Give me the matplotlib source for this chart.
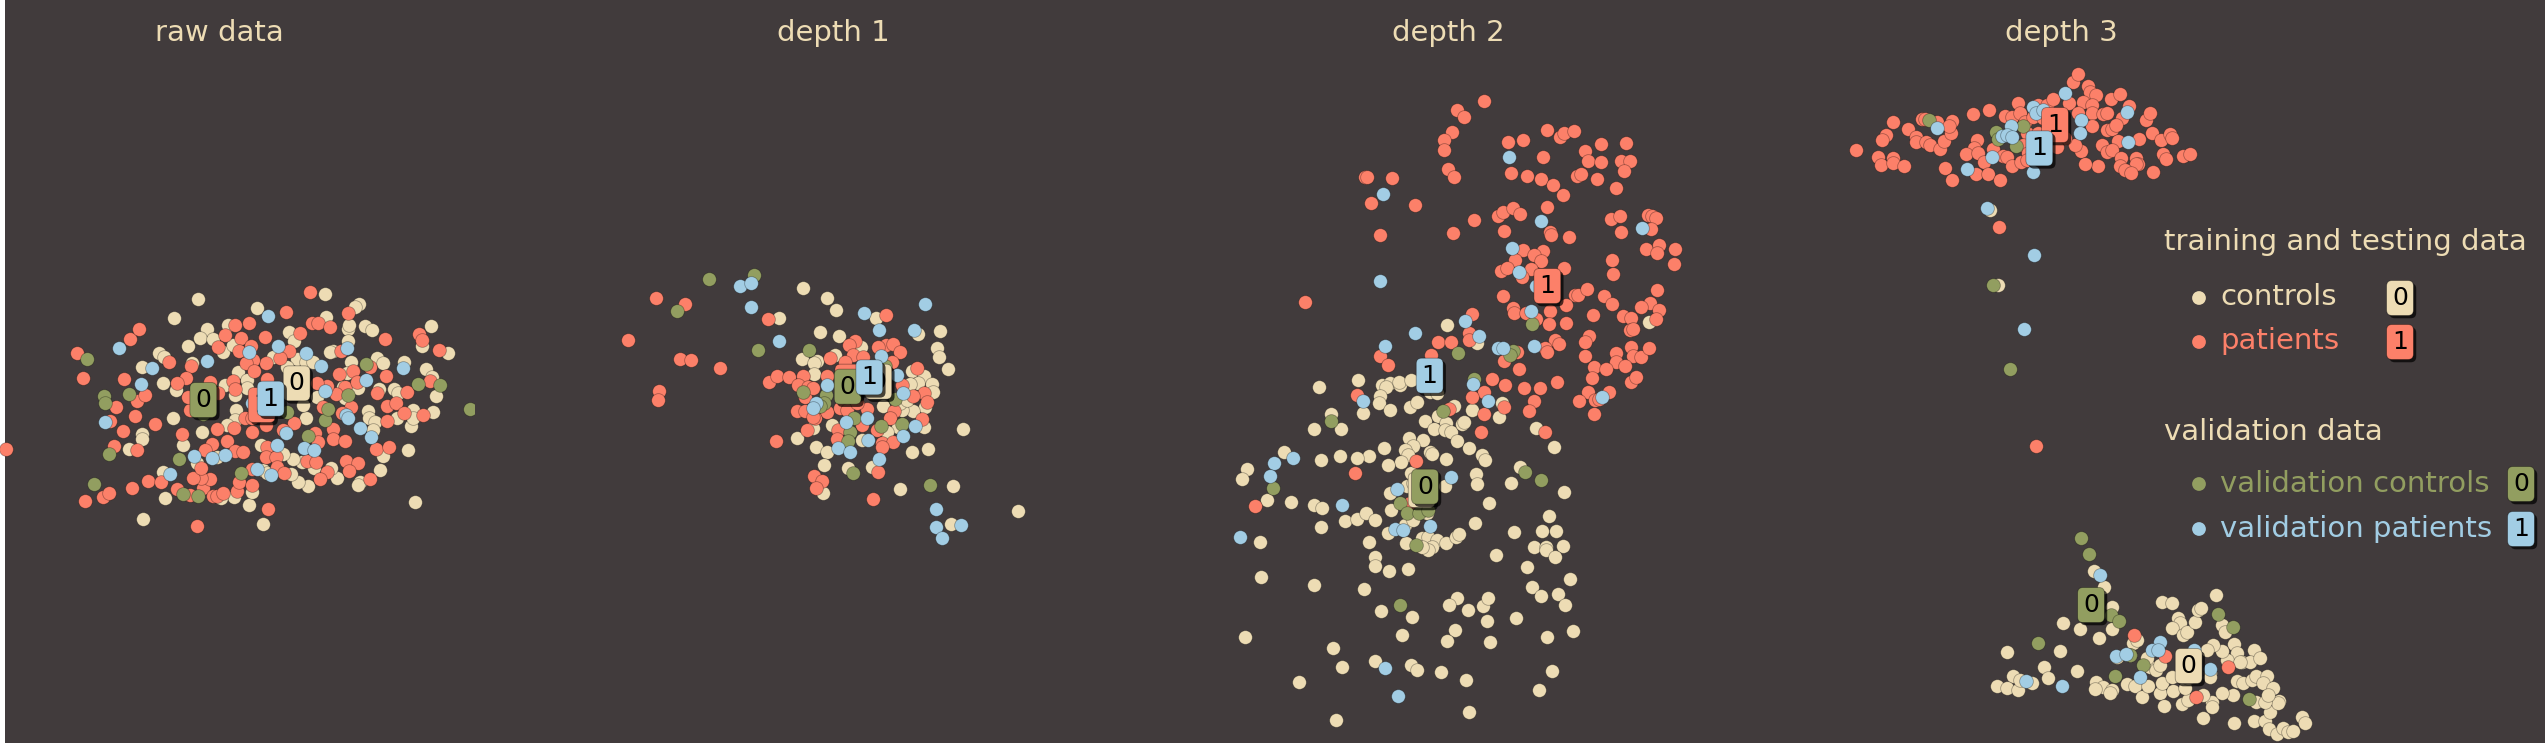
import matplotlib
matplotlib.use("Agg")
import matplotlib.pyplot as plt
import matplotlib.patheffects as pe
from matplotlib.patches import Rectangle
import numpy as np

WIDTH = 2545
HEIGHT = 743
BG = "#413b3c"
CREAM = "#eddcb4"
RED = "#fc8069"
OLIVE = "#929e60"
BLUE = "#a2cde4"

raw_controls = [(594,147),(522,203),(772,175),(975,133),(1077,161),(1065,172),(979,201),(685,225),(621,237),(599,264),(640,266),(564,288),(670,305),(700,285),(1043,238),(1048,225),(1095,228),(1116,240),(1292,228),(1267,288),(1343,310),(478,309),(492,322),(427,351),(490,398),(527,420),(575,340),(1045,272),(1000,303),(990,307),(867,245),(883,272),(1053,336),(1132,323),(1148,338),(1211,335),(1279,356),(1295,380),(1307,438),(1298,487),(1240,480),(1232,527),(1240,505),(1190,505),(1183,417),(1195,430),(1137,417),(1075,413),(1035,445),(1105,484),(1108,503),(1125,517),(1120,540),(518,504),(605,545),(548,584),(427,552),(427,568),(387,597),(490,665),(496,744),(430,807),(747,765),(788,823),(1245,755),(1224,601),(1150,618),(1140,660),(1080,695),(1075,705),(1012,683),(992,655),(925,709),(893,695),(873,672),(942,655),(905,635),(879,628),(850,612),(783,585),(790,660),(800,670),(715,365),(740,390),(740,415),(704,435),(675,405),(708,480),(705,510),(682,525),(918,505),(950,440),(910,465),(890,327),(917,335),(940,335),(860,350),(820,320),(756,725),(703,740),(662,745),(590,640),(650,620),(1040,370),(1030,410)]
raw_patients = [(232,309),(250,385),(373,388),(390,267),(416,237),(348,472),(406,497),(368,543),(343,589),(411,599),(19,597),(464,521),(411,452),(435,435),(330,512),(507,337),(573,347),(559,385),(532,398),(630,395),(256,754),(310,740),(328,730),(397,714),(443,694),(484,697),(530,717),(570,735),(608,714),(629,686),(602,684),(578,684),(603,653),(640,738),(650,738),(668,730),(712,723),(716,696),(755,706),(803,776),(591,828),(546,552),(650,538),(703,535),(755,547),(636,581),(616,600),(680,574),(706,604),(729,606),(800,590),(798,620),(828,620),(830,650),(851,670),(756,656),(882,518),(848,540),(945,548),(955,575),(998,537),(999,568),(1035,574),(1128,597),(1166,592),(1039,634),(1073,640),(1047,662),(981,667),(960,686),(1109,686),(921,632),(947,635),(931,125),(857,187),(747,220),(705,224),(675,255),(722,264),(655,292),(717,302),(752,288),(796,261),(901,250),(937,218),(953,218),(990,230),(1043,189),(1156,268),(1257,251),(1265,270),(1316,299),(1022,302),(868,304),(840,325),(799,340),(760,330),(738,340),(761,362),(700,392),(705,418),(800,388),(1018,373),(1060,364),(1110,350),(1158,379),(1034,410),(1070,397),(1009,433),(981,407),(1130,428),(1222,426),(1289,392),(1160,469),(1188,458),(1213,490),(1270,495),(1162,512),(1052,470),(1027,490),(970,472),(950,400),(735,505),(755,505),(797,525),(570,480),(565,440),(655,430)]
raw_val_controls = [(261,326),(311,437),(314,458),(388,432),(326,612),(283,702),(550,733),(594,739),(538,627),(724,668),(923,557),(976,511),(983,477),(1044,436),(1099,341),(1254,401),(1319,405),(1409,477),(860,487),(610,492)]
raw_val_patients = [(356,293),(457,354),(424,403),(315,515),(620,334),(746,307),(804,198),(835,289),(918,308),(963,348),(1041,293),(1097,389),(1208,353),(974,422),(1037,495),(1045,505),(1081,534),(1112,560),(857,550),(832,584),(911,595),(942,600),(772,656),(813,675),(676,615),(636,624),(583,617),(509,671),(755,460)]
raw_centers = {"cream": (890,400), "red": (785,465), "olive": (610,450), "blue": (812,446)}

d1_controls = [(610,143),(682,175),(709,211),(537,233),(828,235),(953,282),(1019,274),(661,277),(718,289),(1012,323),(1016,351),(1043,387),(782,322),(705,345),(606,356),(652,362),(642,368),(641,401),(936,392),(972,408),(955,428),(930,432),(995,433),(1000,455),(975,500),(938,513),(905,510),(850,498),(900,490),(1088,566),(972,560),(893,560),(985,628),(936,636),(592,593),(648,621),(682,635),(673,676),(640,565),(697,555),(785,600),(745,684),(815,680),(900,746),(1059,738),(670,760),(1052,852),(1253,814),(860,575),(920,480)]
d1_patients = [(167,174),(254,193),(83,301),(239,357),(274,360),(359,385),(176,454),(175,480),(505,237),(507,425),(530,408),(566,412),(528,604),(857,225),(764,303),(748,316),(857,314),(880,312),(900,336),(835,320),(760,345),(790,350),(875,365),(690,354),(735,365),(610,407),(680,408),(595,435),(625,440),(615,470),(640,445),(590,512),(615,512),(645,535),(640,530),(680,515),(720,505),(740,510),(800,508),(770,490),(622,569),(715,570),(712,598),(830,570),(845,608),(878,607),(845,620),(833,696),(643,709),(667,723),(648,744),(820,777),(882,512),(870,535),(966,537),(972,459),(980,485),(938,467),(952,384),(905,435),(785,555)]
d1_val_controls = [(463,105),(328,116),(231,214),(473,330),(628,329),(608,457),(678,464),(672,490),(660,497),(763,534),(749,576),(744,602),(843,559),(906,552),(884,477),(760,699),(990,734),(855,378)]
d1_val_patients = [(420,137),(452,128),(453,200),(537,304),(793,219),(837,269),(976,192),(943,270),(842,348),(890,405),(909,460),(944,558),(910,587),(805,599),(681,436),(648,488),(640,503),(737,547),(800,535),(714,624),(750,637),(838,657),(1008,808),(1008,862),(1084,855),(1025,895)]
d1_centers = {"cream": (835,425), "red": (745,425), "olive": (743,440), "blue": (808,412)}

# depth 2 was read in an upper and a lower part
d2_controls_upper = [(740,735),(1347,727),(830,788),(356,921),(474,899),(547,915),(570,910),(557,922),(600,915),(598,905),(632,900),(540,948),(538,968),(571,990),(490,1000),(392,1003),(630,980),(650,967),(762,978),(905,970),(816,990),(898,1012),(690,935),(710,940)]
d2_controls_lower = [(342,88),(423,88),(676,63),(715,48),(737,70),(701,87),(735,90),(752,95),(785,72),(792,65),(772,122),(808,145),(845,165),(856,179),(626,113),(668,120),(640,137),(615,150),(625,165),(690,155),(695,162),(553,143),(603,185),(565,194),(508,169),(471,173),(420,169),(362,179),(253,156),(142,208),(125,237),(200,300),(274,306),(343,315),(366,324),(363,382),(436,362),(472,358),(499,339),(526,361),(506,426),(524,471),(524,499),(566,514),(623,508),(565,399),(618,430),(615,375),(640,360),(572,329),(569,278),(738,176),(632,218),(620,258),(735,258),(827,223),(832,252),(867,309),(825,368),(934,248),(960,202),(1093,276),(1046,348),(1027,394),(1069,394),(941,396),(1003,440),(1037,440),(1038,451),(1089,437),(1065,472),(888,464),(981,501),(997,561),(1022,589),(1074,581),(1096,616),(1110,536),(949,654),(1118,693),(1040,712),(1056,813),(1017,871),(771,594),(747,616),(804,631),(849,617),(863,594),(862,664),(764,691),(740,724),(870,725),(605,706),(636,651),(542,634),(492,568),(343,554),(183,530),(179,426),(135,711),(400,745),(425,801),(297,846),(526,782),(634,795),(650,810),(722,815),(797,841),(409,960),(808,937),(665,415),(685,410),(712,420),(738,428),(768,411),(778,402),(695,440),(685,450),(1009,83),(1061,142),(665,440),(650,300),(660,300),(680,340),(640,250)]
d2_patients_upper = [(853,63),(770,90),(792,110),(755,155),(732,179),(732,210),(743,267),(761,290),(495,290),(502,290),(575,294),(514,369),(645,376),(539,464),(316,666),(758,459),(822,421),(925,185),(968,181),(1041,151),(1080,172),(1093,160),(1123,153),(1156,213),(1202,192),(1279,190),(1163,243),(1202,247),(1263,242),(1291,243),(1272,272),(1029,231),(933,278),(982,288),(1023,297),(1060,316),(1090,346),(1130,288),(1143,281),(1191,296),(1247,324),(1042,381),(895,407),(910,396),(938,384),(960,401),(912,452),(1050,457),(1054,465),(1106,470),(1233,418),(1261,408),(1264,457),(1343,404),(1355,407),(1368,415),(1354,447),(1338,508),(1376,496),(1370,519),(1424,506),(1421,551),(1237,539),(1240,581),(968,510),(1028,513),(1002,526),(1024,544),(946,540),(1092,563),(902,574),(922,565),(993,568),(965,592),(908,648),(1125,646),(1135,645),(1162,628),(1212,648),(1237,672),(1370,630),(1351,670),(1324,681),(1377,689),(1368,718),(1270,709),(1292,714),(1290,750),(1298,746),(938,683),(943,700),(978,700),(1008,718),(1049,692),(1097,676),(1047,732),(1097,728),(1179,706),(1166,767),(1155,786),(1065,780),(1076,792),(1035,805),(1041,816),(1155,828),(1249,818),(1292,800),(1300,827),(1324,832),(1347,805),(1248,846),(1276,859),(1183,860),(1219,867),(1175,895),(1292,907),(1308,891),(817,702),(808,758),(808,781),(715,785),(752,785),(692,826),(541,827),(563,854),(913,844),(958,867),(950,817),(876,896),(916,916),(971,925),(1020,925),(1071,906),(1164,936),(1226,936),(1137,962),(1185,960),(1198,958),(1002,963),(986,994),(1183,1003),(853,1003),(911,980),(851,936),(815,950),(748,987),(470,944),(1040,610)]
d2_patients_lower = [(648,183),(464,220),(165,317),(844,97),(1036,95),(630,310)]
d2_val_controls_upper = [(997,732),(774,818),(938,814),(930,825),(822,897),(730,992)]
d2_val_controls_lower = [(392,62),(218,265),(600,309),(622,339),(656,340),(685,330),(648,435),(976,216),(1022,240),(600,615)]
d2_val_patients_upper = [(928,230),(548,343),(541,603),(1023,423),(1327,443),(937,504),(956,575),(1007,618),(992,693),(796,723),(836,768),(644,759),(554,798),(893,805),(910,805),(1003,799),(819,913),(863,962),(490,962),(1207,951)]
d2_val_patients_lower = [(278,173),(221,190),(211,229),(121,410),(427,314),(592,267),(753,231),(689,377),(585,388),(608,390),(556,803),(595,889)]
d2_centers = {"cream": (665,1230), "red": (1042,618), "olive": (675,1220), "blue": (689,887)}

# depth 3 has a top cluster, a few points in the middle and a bottom cluster
d3_patients_top = [(77,300),(145,320),(153,345),(168,254),(156,270),(189,216),(190,325),(190,338),(222,349),(233,236),(258,262),(257,275),(288,275),(300,286),(275,207),(285,207),(320,215),(331,298),(343,274),(362,250),(365,212),(358,228),(344,355),(367,389),(428,191),(476,181),(440,270),(431,295),(407,313),(445,310),(463,337),(437,372),(473,373),(510,389),(490,298),(520,318),(530,320),(545,348),(572,335),(525,197),(547,200),(564,158),(570,190),(585,215),(590,250),(580,285),(595,310),(590,330),(610,200),(625,165),(650,165),(670,147),(730,97),(743,72),(773,107),(780,125),(798,135),(843,148),(870,133),(898,168),(875,203),(758,155),(785,165),(716,160),(745,190),(785,190),(820,192),(830,190),(785,228),(830,240),(845,238),(858,225),(947,211),(959,188),(863,273),(817,285),(753,304),(735,285),(705,265),(830,305),(845,300),(928,268),(967,250),(993,270),(1021,253),(1025,265),(1000,312),(1008,327),(1058,317),(1080,313),(968,366),(917,325),(925,342),(918,342),(873,325),(871,347),(885,360),(903,370),(804,349),(766,342),(680,290),(625,250),(640,205),(660,215)]
d3_val_controls_top = [(296,210),(580,227),(498,245),(505,268),(557,289)]
d3_val_patients_top = [(320,235),(411,357),(486,321),(543,227),(517,257),(530,255),(545,262),(610,170),(617,188),(640,180),(610,367),(705,128),(754,209),(751,250),(890,185),(893,277)]
d3_controls_mid = [(90,90),(115,316)]
d3_patients_mid = [(116,141),(227,798)]
d3_val_controls_mid = [(98,316),(149,568)]
d3_val_patients_mid = [(81,84),(222,225),(193,446)]
d3_controls_bot = [(432,154),(463,200),(486,260),(338,310),(390,328),(487,328),(446,354),(172,395),(329,393),(282,441),(381,453),(295,474),(188,467),(140,498),(172,504),(205,509),(247,490),(210,480),(437,485),(460,500),(435,507),(487,510),(480,520),(530,491),(556,498),(577,530),(594,497),(630,520),(635,490),(643,558),(695,553),(715,540),(760,595),(785,545),(787,560),(852,610),(913,603),(945,604),(958,627),(980,642),(1000,625),(1015,637),(1028,632),(1055,592),(1066,610),(960,575),(988,543),(985,550),(917,545),(945,545),(848,524),(817,518),(760,525),(670,513),(705,505),(665,470),(635,246),(667,248),(798,226),(685,293),(690,310),(665,325),(700,345),(710,335),(734,307),(745,270),(752,265),(815,315),(825,335),(851,373),(862,398),(875,425),(912,390),(900,425),(930,415),(830,420),(817,392),(788,375),(770,390),(862,482),(880,490),(905,480),(918,468),(952,467),(940,490),(968,505),(955,525),(550,370),(560,360),(600,440),(617,450),(630,435),(590,415),(500,410),(540,405),(870,425),(780,460),(780,470),(715,475)]
d3_patients_bot = [(551,346),(644,407),(835,441),(738,532)]
d3_val_controls_bot = [(394,54),(417,103),(483,285),(508,303),(265,368),(580,434),(496,467),(805,282),(848,322),(898,538),(540,405)]
d3_val_patients_bot = [(449,166),(227,482),(335,498),(498,408),(527,403),(629,366),(605,391),(625,390),(733,390),(781,447),(571,472)]
d3_centers = {"red": (675,225), "blue": (628,295), "olive": (783,1665), "cream": (1076,1848)}

panel_titles = ["raw data", "depth 1", "depth 2", "depth 3"]
title_centers = [219, 833, 1448, 2061]


def shifted(points, dx, dy):
    return [(x + dx, y + dy) for x, y in points]


def px_axes(fig, left, right, origin_x, origin_y):
    # axes from left to right pixel, with data in thirds of a pixel around the origin
    ax = fig.add_axes([left / WIDTH, 0, (right - left) / WIDTH, 1])
    ax.set_xlim((left - origin_x) * 3, (right - origin_x) * 3)
    ax.set_ylim((HEIGHT - origin_y) * 3, (0 - origin_y) * 3)
    ax.axis("off")
    return ax


def dots(ax, points, color):
    pts = np.array(points, dtype=float)
    ax.scatter(pts[:, 0], pts[:, 1], s=98, c=color, edgecolors="#00000050", linewidths=0.6)


def center_label(ax, xy, text, color):
    t = ax.text(xy[0], xy[1], text, fontsize=18, color="black", ha="center", va="center",
                bbox=dict(boxstyle="round,pad=0.22", facecolor=color,
                          edgecolor="#00000060", linewidth=0.6),
                zorder=5)
    t.get_bbox_patch().set_path_effects(
        [pe.SimplePatchShadow(offset=(2, -2), shadow_rgbFace="black", alpha=0.7), pe.Normal()])
    return t


def draw_panel(ax, controls, patients, val_controls, val_patients, centers):
    dots(ax, controls, CREAM)
    dots(ax, patients, RED)
    dots(ax, val_controls, OLIVE)
    dots(ax, val_patients, BLUE)
    center_label(ax, centers["cream"], "0", CREAM)
    center_label(ax, centers["red"], "1", RED)
    center_label(ax, centers["olive"], "0", OLIVE)
    center_label(ax, centers["blue"], "1", BLUE)


fig = plt.figure(figsize=(WIDTH / 100, HEIGHT / 100), dpi=100, facecolor="white")
fig.add_artist(Rectangle((5 / WIDTH, 0), 1 - 5 / WIDTH, 1, transform=fig.transFigure,
                         facecolor=BG, edgecolor="none", zorder=-1))

ax_raw = px_axes(fig, 0, 474, 0, 250)
draw_panel(ax_raw, raw_controls, raw_patients, raw_val_controls, raw_val_patients, raw_centers)

ax_d1 = px_axes(fig, 474, 1120, 600, 240)
draw_panel(ax_d1, d1_controls, d1_patients, d1_val_controls, d1_val_patients, d1_centers)

# lower part of depth 2 starts 320 px below the upper part
ax_d2 = px_axes(fig, 1120, 1790, 1200, 80)
draw_panel(ax_d2,
           d2_controls_upper + shifted(d2_controls_lower, 0, 960),
           d2_patients_upper + shifted(d2_patients_lower, 0, 960),
           d2_val_controls_upper + shifted(d2_val_controls_lower, 0, 960),
           d2_val_patients_upper + shifted(d2_val_patients_lower, 0, 960),
           d2_centers)

ax_d3 = px_axes(fig, 1790, WIDTH, 1830, 50)
draw_panel(ax_d3,
           shifted(d3_controls_mid, 390, 390) + shifted(d3_controls_bot, 360, 1410),
           d3_patients_top + shifted(d3_patients_mid, 390, 390) + shifted(d3_patients_bot, 360, 1410),
           d3_val_controls_top + shifted(d3_val_controls_mid, 390, 390) + shifted(d3_val_controls_bot, 360, 1410),
           d3_val_patients_top + shifted(d3_val_patients_mid, 390, 390) + shifted(d3_val_patients_bot, 360, 1410),
           d3_centers)

# titles and legend go on a transparent overlay in plain pixels
over = fig.add_axes([0, 0, 1, 1], facecolor="none")
over.set_xlim(0, WIDTH)
over.set_ylim(HEIGHT, 0)
over.axis("off")

for name, cx in zip(panel_titles, title_centers):
    over.text(cx, 41, name, color=CREAM, fontsize=21, ha="center", va="baseline")

over.text(2164, 250, "training and testing data", color=CREAM, fontsize=21, va="baseline")
over.text(2164, 440, "validation data", color=CREAM, fontsize=21, va="baseline")

legend_rows = [
    ("controls", CREAM, 298, 305, 2400, "0"),
    ("patients", RED, 342, 349, 2400, "1"),
    ("validation controls", OLIVE, 484, 492, 2521, "0"),
    ("validation patients", BLUE, 529, 537, 2521, "1"),
]
for label, color, dot_y, text_y, box_x, digit in legend_rows:
    over.scatter([2199], [dot_y], s=98, c=color, edgecolors="none")
    over.text(2220, text_y, label, color=color, fontsize=21, va="baseline")
    center_label(over, (box_x, dot_y), digit, color)

fig.savefig("out.png", dpi=100, facecolor=fig.get_facecolor())
